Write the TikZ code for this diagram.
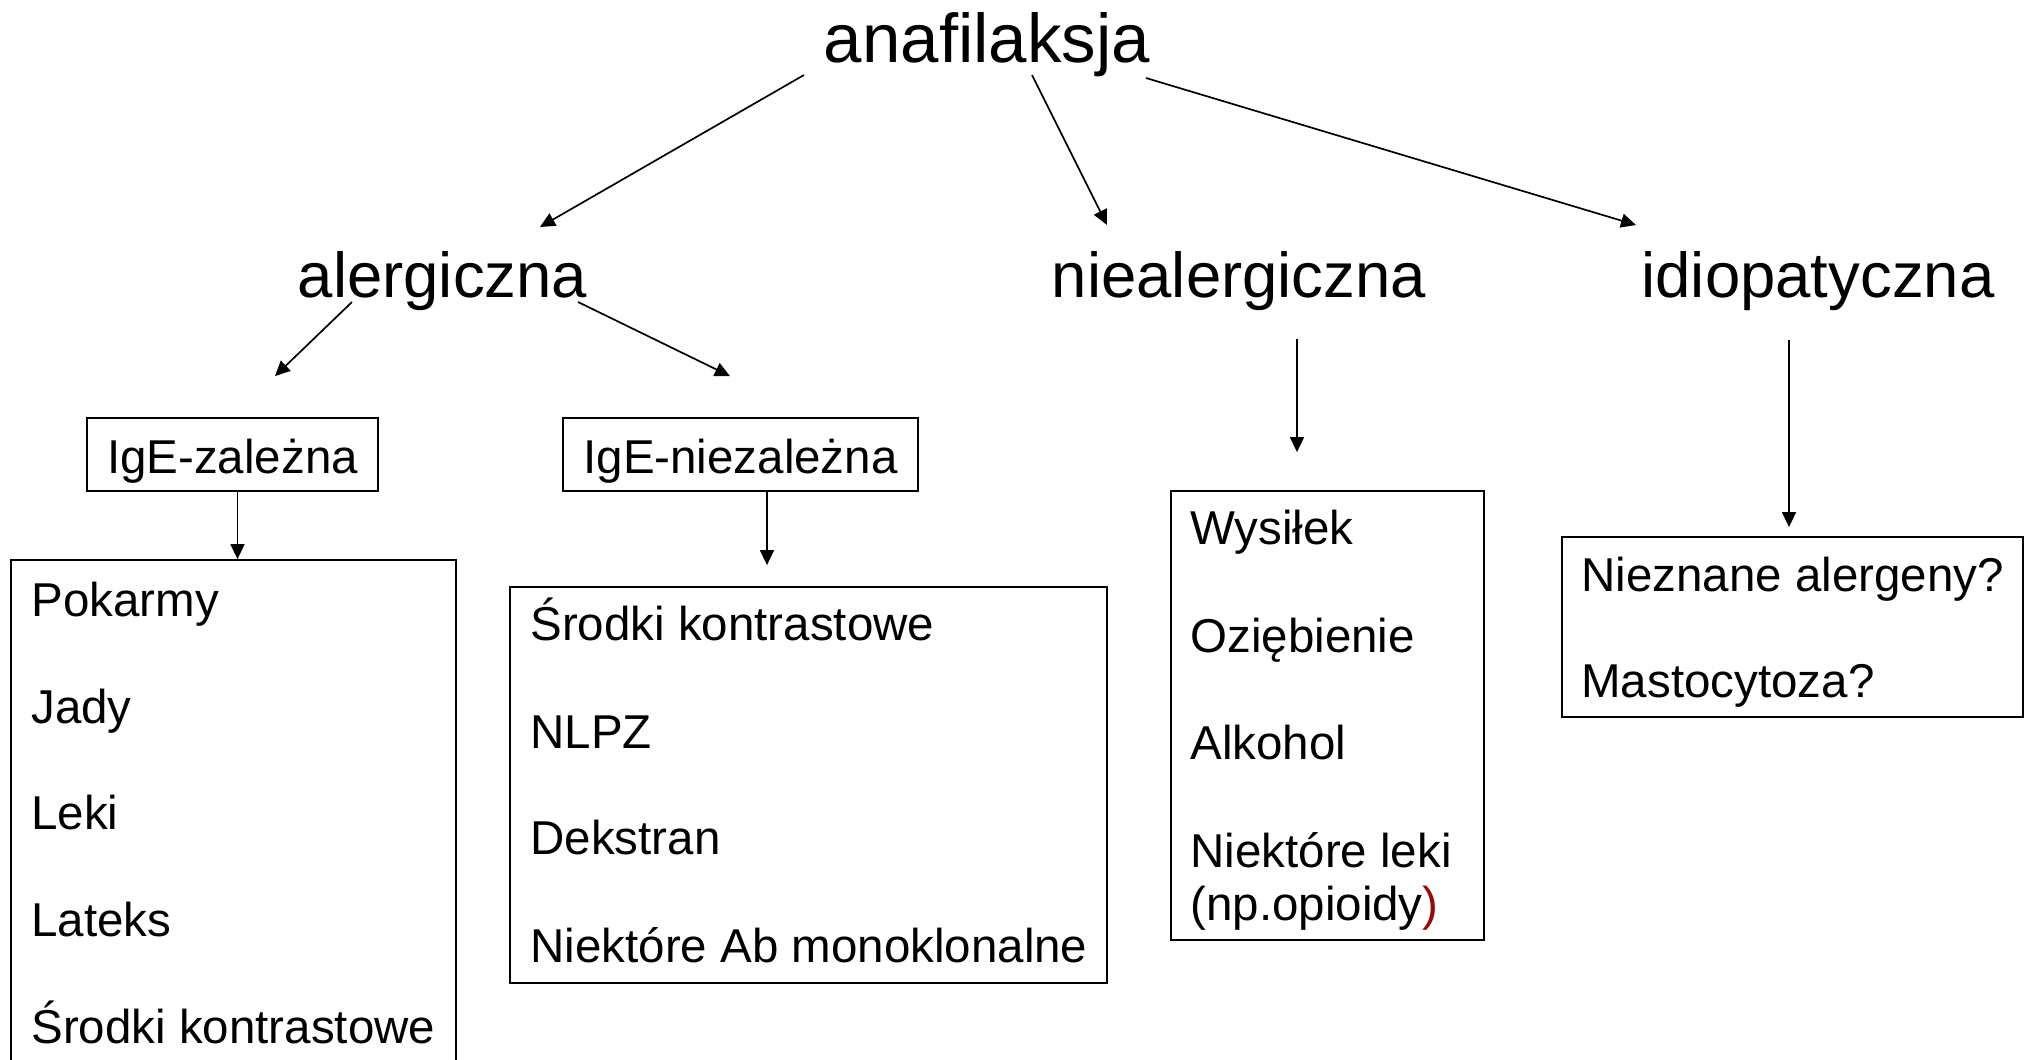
\documentclass[tikz,border=0pt]{standalone}
\usepackage{fontspec}
\setmainfont{Liberation Sans}
\usetikzlibrary{arrows.meta,calc}
\definecolor{darkred}{RGB}{150,10,10}
\begin{document}
\begin{tikzpicture}[x=0.5pt,y=-0.5pt,
  lvone/.style={font=\fontsize{34.5pt}{40pt}\selectfont, inner sep=0pt, anchor=base},
  lvtwo/.style={font=\fontsize{31.75pt}{38pt}\selectfont, inner sep=0pt, anchor=base},
  item/.style={font=\fontsize{23.75pt}{28pt}\selectfont, inner sep=0pt, anchor=base west},
  ige/.style={draw, line width=0.9pt, font=\fontsize{23.75pt}{28pt}\selectfont, inner sep=0pt, text height=23.5pt, text depth=5pt},
  listbox/.style={draw, line width=0.9pt, inner sep=0pt},
  arr/.style={-{Triangle[length=7.5pt,width=7pt]}, line width=0.85pt}]
\useasboundingbox (0,0) rectangle (2031,1060);
\clip (0,0) rectangle (2031,1060);

% level 1 and 2
\node[lvone] (ana) at (987,62) {anafilaksja};
\node[lvtwo] (aler) at (442.5,297) {alergiczna};
\node[lvtwo] (nie) at (1239,297) {niealergiczna};
\node[lvtwo] (idio) at (1818,297) {idiopatyczna};

% level 3 boxes
\node[ige, minimum width=145.5pt, minimum height=36.5pt] (igez) at (232.5,454.5) {IgE-zależna};
\node[ige, minimum width=177.5pt, minimum height=36.5pt] (igenz) at (740.5,454.5) {IgE-niezależna};

% list boxes
\node[listbox, minimum width=222.5pt, minimum height=270pt] (listL) at (233.5,830) {};
\node[listbox, minimum width=298.5pt, minimum height=198pt] (listM) at (808.5,785) {};
\node[listbox, minimum width=156.5pt, minimum height=224.5pt] (listN) at (1327.5,715.5) {};
\node[listbox, minimum width=230.5pt, minimum height=90pt] (listR) at (1792.5,627) {};

% list items
\node[item] (l1) at (31,616) {Pokarmy};
\node[item] (l2) at (31,723) {Jady};
\node[item] (l3) at (31,829) {Leki};
\node[item] (l4) at (31,936) {Lateks};
\node[item] (l5) at (31,1043) {Środki kontrastowe};

\node[item] (m1) at (530,640) {Środki kontrastowe};
\node[item] (m2) at (530,748) {NLPZ};
\node[item] (m3) at (530,854) {Dekstran};
\node[item] (m4) at (530,962) {Niektóre Ab monoklonalne};

\node[item] (n1) at (1190,544) {Wysiłek};
\node[item] (n2) at (1190,652) {Oziębienie};
\node[item] (n3) at (1190,759) {Alkohol};
\node[item] (n4) at (1190,867) {Niektóre leki};
\node[item] (n5) at (1190,920) {(np.opioidy\textcolor{darkred}{)}};

\node[item] (r1) at (1581,591) {Nieznane alergeny?};
\node[item] (r2) at (1581,697) {Mastocytoza?};

% connectors
\draw[arr] ($(ana.base)+(-183,13)$) -- ($(aler.base)+(97.5,-70)$);
\draw[arr] ($(ana.base)+(45,13)$) -- ($(nie.base)+(-132,-72)$);
\draw[arr] ($(ana.base)+(159,16)$) -- ($(idio.base)+(-182,-72)$);

\draw[arr] ($(aler.base)+(-90.5,5)$) -- ($(igez.north)+(42.5,-41)$);
\draw[arr] ($(aler.base)+(135.5,5)$) -- ($(igenz.north)+(-10.5,-41)$);

\draw[arr] ([xshift=2.5pt]igez.south) -- ([xshift=2.5pt]igez.south |- listL.north);
\draw[arr, shorten >=10.5pt] ([xshift=13.25pt]igenz.south) -- ([xshift=13.25pt]igenz.south |- listM.north);

\draw[arr] ($(nie.base)+(58,42)$) -- ($(listN.north)+(-30.5,-38)$);
\draw[arr] ($(idio.base)+(-29,43)$) -- ($(listR.north)+(-3.5,-9)$);
\end{tikzpicture}
\end{document}
